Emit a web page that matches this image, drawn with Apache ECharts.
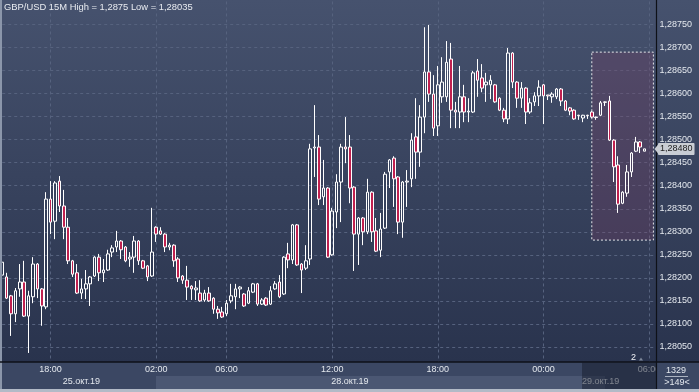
<!DOCTYPE html>
<html><head><meta charset="utf-8">
<script src="https://cdn.jsdelivr.net/npm/echarts@6/dist/echarts.min.js"></script>
<style>html,body{margin:0;padding:0;background:#2c3650;}#c{width:699px;height:392px;}</style>
</head><body><div id="c"></div>
<script>
// ---- data (GBP/USD 15M) ----
const opens = [1.28206,1.28202,1.28161,1.28122,1.28176,1.28191,1.28117,1.28159,1.28230,1.28176,
1.28137,1.28371,1.28323,1.28410,1.28356,1.28310,1.28237,1.28211,1.28167,1.28176,
1.28187,1.28204,1.28245,1.28211,1.28217,1.28256,1.28267,1.28280,1.28267,1.28241,
1.28245,1.28280,1.28237,1.28226,1.28204,1.28310,1.28302,1.28295,1.28267,1.28271,
1.28241,1.28204,1.28195,1.28182,1.28174,1.28167,1.28152,1.28167,1.28156,1.28132,
1.28126,1.28122,1.28150,1.28159,1.28176,1.28165,1.28145,1.28169,1.28187,1.28143,
1.28156,1.28143,1.28176,1.28191,1.28165,1.28252,1.28239,1.28315,1.28230,1.28221,
1.28241,1.28482,1.28484,1.28376,1.28395,1.28250,1.28343,1.28408,1.28484,1.28484,
1.28397,1.28295,1.28330,1.28300,1.28386,1.28302,1.28260,1.28308,1.28430,1.28460,
1.28419,1.28321,1.28408,1.28415,1.28506,1.28473,1.28549,1.28647,1.28599,1.28530,
1.28593,1.28593,1.28675,1.28564,1.28560,1.28593,1.28560,1.28560,1.28649,1.28634,
1.28619,1.28619,1.28619,1.28590,1.28564,1.28545,1.28688,1.28625,1.28590,1.28612,
1.28560,1.28582,1.28595,1.28619,1.28597,1.28593,1.28593,1.28610,1.28584,1.28569,
1.28564,1.28553,1.28547,1.28553,1.28560,1.28549,1.28553,1.28582,1.28584,1.28499,
1.28445,1.28362,1.28384,1.28430,1.28475,1.28495,1.28475];
const closes = [1.28234,1.28156,1.28122,1.28172,1.28191,1.28117,1.28161,1.28230,1.28176,1.28139,
1.28371,1.28321,1.28406,1.28356,1.28310,1.28237,1.28208,1.28167,1.28176,1.28187,
1.28202,1.28245,1.28211,1.28217,1.28252,1.28265,1.28280,1.28261,1.28237,1.28245,
1.28280,1.28237,1.28221,1.28202,1.28256,1.28295,1.28295,1.28267,1.28271,1.28237,
1.28200,1.28195,1.28180,1.28176,1.28178,1.28150,1.28167,1.28150,1.28132,1.28124,
1.28115,1.28145,1.28161,1.28176,1.28180,1.28139,1.28172,1.28187,1.28143,1.28152,
1.28141,1.28172,1.28187,1.28159,1.28245,1.28239,1.28315,1.28228,1.28217,1.28237,
1.28480,1.28484,1.28371,1.28395,1.28245,1.28345,1.28408,1.28484,1.28480,1.28395,
1.28295,1.28330,1.28300,1.28386,1.28300,1.28258,1.28306,1.28425,1.28456,1.28415,
1.28321,1.28408,1.28410,1.28499,1.28473,1.28549,1.28647,1.28599,1.28525,1.28619,
1.28625,1.28668,1.28564,1.28560,1.28593,1.28560,1.28562,1.28645,1.28629,1.28612,
1.28625,1.28629,1.28582,1.28564,1.28545,1.28688,1.28625,1.28590,1.28612,1.28560,
1.28580,1.28595,1.28614,1.28595,1.28595,1.28599,1.28610,1.28584,1.28564,1.28562,
1.28545,1.28552,1.28553,1.28552,1.28549,1.28548,1.28580,1.28581,1.28499,1.28441,
1.28360,1.28386,1.28430,1.28471,1.28495,1.28484,1.28480];
const lows = [1.28195,1.28154,1.28074,1.28104,1.28159,1.28115,1.28037,1.28145,1.28156,1.28096,
1.28132,1.28295,1.28284,1.28343,1.28284,1.28230,1.28202,1.28165,1.28154,1.28154,
1.28139,1.28202,1.28193,1.28191,1.28215,1.28245,1.28256,1.28241,1.28234,1.28224,
1.28211,1.28228,1.28219,1.28193,1.28202,1.28278,1.28293,1.28256,1.28260,1.28224,
1.28191,1.28187,1.28152,1.28152,1.28152,1.28148,1.28148,1.28148,1.28122,1.28111,
1.28113,1.28117,1.28145,1.28132,1.28156,1.28137,1.28143,1.28167,1.28139,1.28141,
1.28139,1.28141,1.28174,1.28156,1.28163,1.28221,1.28230,1.28226,1.28167,1.28217,
1.28228,1.28419,1.28358,1.28358,1.28243,1.28248,1.28308,1.28321,1.28449,1.28362,
1.28215,1.28228,1.28271,1.28295,1.28278,1.28256,1.28245,1.28306,1.28395,1.28354,
1.28295,1.28287,1.28354,1.28397,1.28415,1.28441,1.28514,1.28582,1.28508,1.28508,
1.28580,1.28582,1.28525,1.28525,1.28525,1.28538,1.28538,1.28558,1.28593,1.28603,
1.28582,1.28588,1.28580,1.28562,1.28538,1.28534,1.28612,1.28569,1.28569,1.28534,
1.28556,1.28573,1.28573,1.28534,1.28586,1.28580,1.28588,1.28573,1.28562,1.28553,
1.28543,1.28543,1.28538,1.28545,1.28547,1.28543,1.28551,1.28573,1.28497,1.28408,
1.28341,1.28360,1.28376,1.28419,1.28473,1.28471,1.28475];
const highs = [1.28252,1.28211,1.28163,1.28178,1.28230,1.28237,1.28172,1.28245,1.28232,1.28178,
1.28386,1.28410,1.28410,1.28421,1.28391,1.28330,1.28239,1.28230,1.28198,1.28217,
1.28204,1.28247,1.28252,1.28241,1.28261,1.28271,1.28302,1.28282,1.28269,1.28256,
1.28291,1.28282,1.28239,1.28228,1.28352,1.28312,1.28310,1.28297,1.28276,1.28273,
1.28245,1.28206,1.28226,1.28184,1.28193,1.28195,1.28174,1.28180,1.28158,1.28139,
1.28137,1.28152,1.28187,1.28187,1.28182,1.28167,1.28180,1.28189,1.28189,1.28156,
1.28158,1.28182,1.28193,1.28206,1.28247,1.28276,1.28317,1.28317,1.28232,1.28271,
1.28491,1.28575,1.28510,1.28456,1.28397,1.28352,1.28425,1.28491,1.28549,1.28510,
1.28399,1.28332,1.28332,1.28415,1.28388,1.28330,1.28341,1.28430,1.28458,1.28464,
1.28421,1.28410,1.28434,1.28514,1.28590,1.28575,1.28744,1.28749,1.28640,1.28660,
1.28679,1.28714,1.28710,1.28582,1.28660,1.28619,1.28590,1.28649,1.28675,1.28664,
1.28645,1.28640,1.28621,1.28592,1.28569,1.28699,1.28690,1.28627,1.28625,1.28614,
1.28590,1.28603,1.28629,1.28621,1.28597,1.28603,1.28612,1.28612,1.28586,1.28571,
1.28566,1.28554,1.28554,1.28554,1.28562,1.28550,1.28584,1.28583,1.28595,1.28501,
1.28464,1.28388,1.28445,1.28473,1.28506,1.28497,1.28480];

// categories: Fri 25.10 15:15..23:45, then Mon 28.10 02:00 onward (149 slots)
const categories = [];
(function(){
  const pad = n => String(n).padStart(2,'0');
  for (let m = 15*60+15; m <= 23*60+45; m += 15) categories.push('25.10 ' + pad(Math.floor(m/60)) + ':' + pad(m%60));
  let m = 2*60;
  while (categories.length < 149) {
    const d = m >= 24*60 ? '29.10 ' : '28.10 ';
    const mm = m % (24*60);
    categories.push(d + pad(Math.floor(mm/60)) + ':' + pad(mm%60));
    m += 15;
  }
})();
const timeTickIdx = [11, 35, 51, 75, 99, 123, 147];
const dateTicks = {18: '25.окт.19', 79: '28.окт.19', 136: '29.окт.19'};
const selection = {fromIdx: 134, toIdx: 148, top: 1.28690, bottom: 1.28282};
const titleText = 'GBP/USD 15M High = 1,2875 Low = 1,28035';

const ohlc = opens.map((o, i) => [o, closes[i], lows[i], highs[i]]);
const lastClose = closes[closes.length - 1];
const fmt = v => Number(v).toFixed(5).replace('.', ',');
const FONT = 'Liberation Sans';
const TXT = '#e4e8ee';

const chart = echarts.init(document.getElementById('c'), null, {renderer: 'canvas'});
chart.setOption({
  animation: false,
  backgroundColor: 'transparent',
  title: {text: titleText, left: 4, top: 3, padding: 0, textStyle: {fontSize: 9.4, fontWeight: 'normal', color: '#e8ebf0', fontFamily: FONT}},
  grid: {left: 2.2, right: 45.6, top: 1.46, bottom: 22, containLabel: false},
  xAxis: [
    {type: 'category', data: categories, boundaryGap: false, z: 0,
     axisLine: {show: false}, axisTick: {show: false}, axisLabel: {show: false},
     splitLine: {show: true, interval: i => timeTickIdx.includes(i), lineStyle: {color: '#56627e', type: [3, 3], width: 1}}},
    {type: 'category', data: categories, boundaryGap: false, position: 'bottom', z: 5,
     axisLine: {show: false}, axisTick: {show: false}, splitLine: {show: false},
     axisLabel: {interval: i => timeTickIdx.includes(i), formatter: v => v.slice(-5), margin: 0, verticalAlign: 'middle',
                 color: TXT, fontSize: 9, fontFamily: FONT, hideOverlap: false}},
    {type: 'category', data: categories, boundaryGap: false, position: 'bottom', offset: 12, z: 5,
     axisLine: {show: false}, axisTick: {show: false}, splitLine: {show: false},
     axisLabel: {interval: i => dateTicks[i] !== undefined, formatter: (v, i) => dateTicks[i] || '', margin: 0, verticalAlign: 'middle',
                 color: TXT, fontSize: 9, fontFamily: FONT, hideOverlap: false}}
  ],
  yAxis: {type: 'value', position: 'right', min: 1.28, max: 1.288, interval: 0.0005,
    axisLine: {show: false}, axisTick: {show: false},
    splitLine: {show: true, showMinLine: false, showMaxLine: false, lineStyle: {color: '#56627e', type: [3, 3], width: 1}},
    axisLabel: {showMinLabel: false, showMaxLabel: false, formatter: fmt, color: TXT, fontSize: 9, fontFamily: FONT, margin: 6}},
  series: [{
    type: 'candlestick', data: ohlc, barWidth: 3, clip: false, silent: true,
    itemStyle: {color: 'rgba(0,0,0,0)', color0: '#c0204f', borderColor: '#ffffff', borderColor0: '#ffffff', borderColorDoji: '#ffffff', borderWidth: 1},
    markArea: {silent: true,
      itemStyle: {color: 'rgba(130,60,100,0.25)', borderColor: '#e6e6ea', borderWidth: 1, borderType: [2, 2]},
      data: [[{xAxis: selection.fromIdx, yAxis: selection.top}, {xAxis: selection.toIdx, yAxis: selection.bottom}]]}
  }],
  graphic: [
    {type: 'rect', z: -100, shape: {x: 0, y: 0, width: 699, height: 362},
     style: {fill: new echarts.graphic.LinearGradient(0, 0, 0, 1, [{offset: 0, color: '#46526e'}, {offset: 1, color: '#29334d'}])}},
    {type: 'rect', z: 1, shape: {x: 0, y: 362, width: 699, height: 27}, style: {fill: '#3b4763'}},
    {type: 'rect', z: 2, shape: {x: 156, y: 376, width: 449, height: 13}, style: {fill: '#4b5773'}},
    {type: 'rect', z: 3, shape: {x: 0, y: 389, width: 699, height: 3}, style: {fill: '#b2bac7'}},
    {type: 'rect', z: 3, shape: {x: 0, y: 0, width: 2, height: 389}, style: {fill: '#8b96aa'}},
    {type: 'rect', z: 10, shape: {x: 582, y: 362.5, width: 74.5, height: 26.5}, style: {fill: 'rgba(22,28,44,0.5)'}},
    {type: 'rect', z: 11, shape: {x: 656.5, y: 362.5, width: 42.5, height: 26.5}, style: {fill: '#3b4763'}},
    {type: 'line', z: 12, shape: {x1: 0, y1: 362, x2: 699, y2: 362}, style: {stroke: '#0e1118', lineWidth: 1.5}},
    {type: 'line', z: 12, shape: {x1: 656.5, y1: 0, x2: 656.5, y2: 389}, style: {stroke: '#0e1118', lineWidth: 1.2}},
    {type: 'text', z: 12, x: 676, y: 370.5, style: {text: '1329', fill: TXT, font: '9px ' + FONT, align: 'center', verticalAlign: 'middle'}},
    {type: 'line', z: 12, shape: {x1: 665, y1: 376.5, x2: 688, y2: 376.5}, style: {stroke: '#aab2c0', lineWidth: 1}},
    {type: 'text', z: 12, x: 677, y: 382.5, style: {text: '>149<', fill: TXT, font: '9px ' + FONT, align: 'center', verticalAlign: 'middle'}},
    {type: 'text', z: 12, x: 633.5, y: 358, style: {text: '2', fill: '#f0f2f6', font: '9px ' + FONT, align: 'center', verticalAlign: 'middle'}},
    {type: 'polygon', z: 12, shape: {points: [[639, 360.5], [643, 360.5], [641, 357.5]]}, style: {fill: '#7d879a'}}
  ]
});
// current-price tag, placed from the last close value
const py = chart.convertToPixel({yAxisIndex: 0}, lastClose);
chart.setOption({graphic: [
  {type: 'polygon', id: 'ptr', z: 20, shape: {points: [[654.5, py], [658.5, py - 5], [658.5, py + 5]]}, style: {fill: '#c9cdd4'}},
  {type: 'text', id: 'ptag', z: 21, x: 658, y: py, style: {text: fmt(lastClose), fill: '#1b1b1b', font: '9px ' + FONT,
    verticalAlign: 'middle', align: 'left', backgroundColor: '#c9cdd4', padding: [2, 2, 1, 2], borderRadius: 1}}
]});
</script></body></html>
